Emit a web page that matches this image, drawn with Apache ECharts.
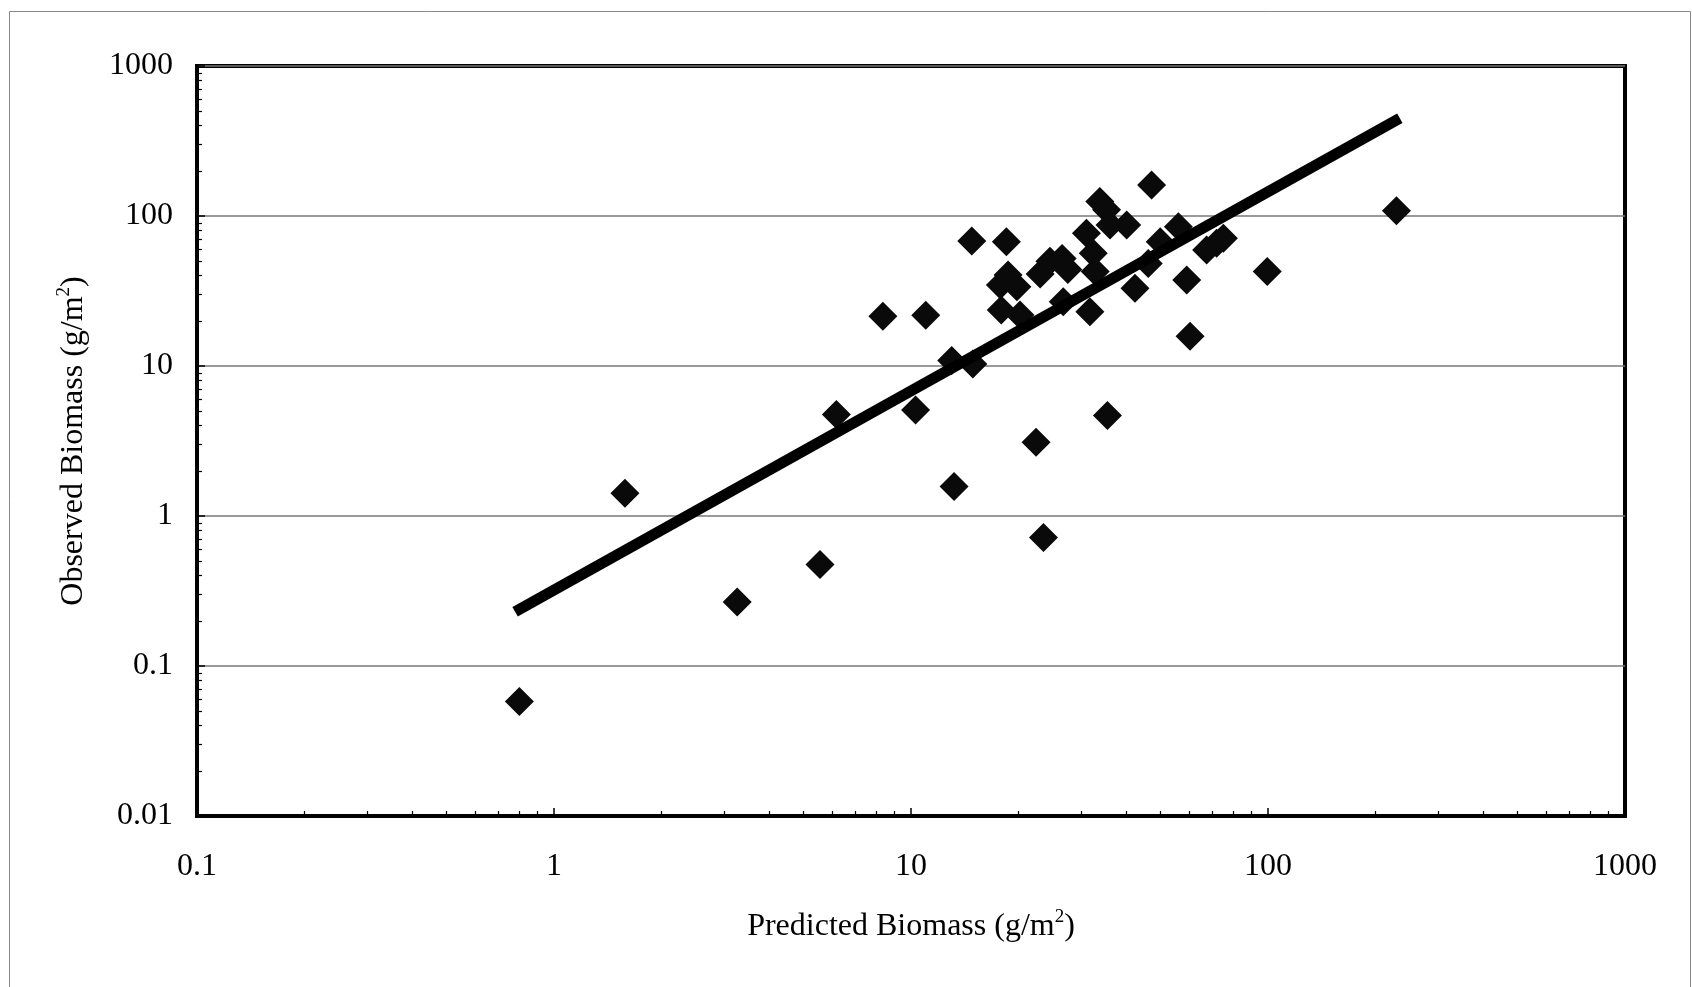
<!DOCTYPE html>
<html>
<head>
<meta charset="utf-8">
<script src="https://cdn.jsdelivr.net/npm/echarts@6/dist/echarts.min.js"></script>
<style>
html,body{margin:0;padding:0;background:#fff;}
#chart{width:1692px;height:987px;}
</style>
</head>
<body>
<div id="chart"></div>
<script>
// ---- data ----
const predicted = [0.80, 1.58, 3.26, 5.56, 6.18, 8.34, 10.3, 11.0, 13.0, 13.2,
  14.9, 14.8, 18.5, 17.8, 18.7, 19.8, 17.9, 20.2, 22.4, 23.5,
  23.0, 24.5, 26.5, 27.5, 26.7, 31.0, 32.4, 32.8, 31.7, 33.8,
  35.3, 36.1, 40.2, 35.5, 42.4, 46.2, 47.2, 49.9, 56.1, 59.2,
  60.5, 67.3, 71.8, 75.0, 99.5, 229];
const observed = [0.058, 1.42, 0.267, 0.475, 4.75, 21.5, 5.09, 21.8, 10.9, 1.57,
  10.3, 68, 67.4, 34.7, 40.4, 33.8, 23.6, 21.9, 3.10, 0.72,
  41, 50, 52, 44, 26.8, 76.7, 56.4, 42.6, 23.0, 125,
  110, 87, 87, 4.68, 33.0, 48.3, 161, 67.4, 84.9, 37.4,
  15.8, 59.3, 65.8, 71.0, 42.6, 108.6];
const fitX = [0.778, 234];
const fitY = [0.230, 448];

const xTickLabels = ['0.1', '1', '10', '100', '1000'];
const yTickLabels = ['0.01', '0.1', '1', '10', '100', '1000'];
const xMinorTicks = [0.2,0.3,0.4,0.5,0.6,0.7,0.8,0.9, 2,3,4,5,6,7,8,9,
  20,30,40,50,60,70,80,90, 200,300,400,500,600,700,800,900];
const yMinorTicks = [0.02,0.03,0.04,0.05,0.06,0.07,0.08,0.09, 0.2,0.3,0.4,0.5,0.6,0.7,0.8,0.9,
  2,3,4,5,6,7,8,9, 20,30,40,50,60,70,80,90, 200,300,400,500,600,700,800,900];

const FONT = '"Liberation Serif", "Times New Roman", serif';

const chart = echarts.init(document.getElementById('chart'), null, {renderer: 'canvas'});

function labelFor(list, minExp) {
  return function (v) {
    const i = Math.round(Math.log10(v)) - minExp;
    return list[i] !== undefined ? list[i] : '';
  };
}

const nameStyle = {
  fontFamily: FONT, fontSize: 32, color: '#000', lineHeight: 38,
  rich: { sup: { fontFamily: FONT, fontSize: 19, color: '#000', verticalAlign: 'top', lineHeight: 38 } }
};

chart.setOption({
  animation: false,
  backgroundColor: '#fff',
  graphic: [{
    type: 'rect', left: 7, top: 9, z: -10,
    shape: { width: 1681, height: 1000 },
    style: { fill: 'none', stroke: '#888', lineWidth: 1 }
  }],
  grid: {
    left: 197, top: 66, width: 1428, height: 750,
    show: true, borderColor: '#000', borderWidth: 4, backgroundColor: 'transparent'
  },
  xAxis: [{
    type: 'log', logBase: 10, min: 0.1, max: 1000, position: 'bottom',
    name: 'Predicted Biomass (g/m{sup|2})', nameLocation: 'middle', nameGap: 92,
    nameTextStyle: nameStyle,
    axisLine: { show: true, lineStyle: { color: '#000', width: 4 } },
    axisTick: { show: true, inside: true, length: 8, lineStyle: { color: '#000', width: 1.5 } },
    axisLabel: { fontFamily: FONT, fontSize: 32, color: '#000', margin: 35, formatter: labelFor(xTickLabels, -1) },
    splitLine: { show: false }, minorTick: { show: false }
  }, {
    type: 'log', logBase: 10, min: 0.1, max: 1000, position: 'bottom', offset: 0,
    axisLine: { show: false },
    axisTick: { show: true, inside: true, length: 5, customValues: xMinorTicks, lineStyle: { color: '#000', width: 1.2 } },
    axisLabel: { show: false },
    splitLine: { show: false }
  }],
  yAxis: [{
    type: 'log', logBase: 10, min: 0.01, max: 1000, position: 'left',
    name: 'Observed Biomass (g/m{sup|2})', nameLocation: 'middle', nameGap: 104, nameRotate: 90,
    nameTextStyle: nameStyle,
    axisLine: { show: true, lineStyle: { color: '#000', width: 4 } },
    axisTick: { show: true, inside: true, length: 8, lineStyle: { color: '#000', width: 1.5 } },
    axisLabel: { fontFamily: FONT, fontSize: 32, color: '#000', margin: 24, formatter: labelFor(yTickLabels, -2) },
    splitLine: { show: true, lineStyle: { color: '#777', width: 1.5 } }
  }, {
    type: 'log', logBase: 10, min: 0.01, max: 1000, position: 'left', offset: 0,
    axisLine: { show: false },
    axisTick: { show: true, inside: true, length: 5, customValues: yMinorTicks, lineStyle: { color: '#000', width: 1.2 } },
    axisLabel: { show: false },
    splitLine: { show: false }
  }],
  series: [{
    type: 'scatter',
    xAxisIndex: 0, yAxisIndex: 0,
    symbol: 'diamond', symbolSize: 29,
    itemStyle: { color: '#0a0a0a', opacity: 1 },
    data: predicted.map((x, i) => [x, observed[i]]),
    z: 3
  }, {
    type: 'line',
    xAxisIndex: 0, yAxisIndex: 0,
    showSymbol: false, symbol: 'none',
    lineStyle: { color: '#000', width: 11, cap: 'butt' },
    data: fitX.map((x, i) => [x, fitY[i]]),
    z: 4
  }]
});
</script>
</body>
</html>
